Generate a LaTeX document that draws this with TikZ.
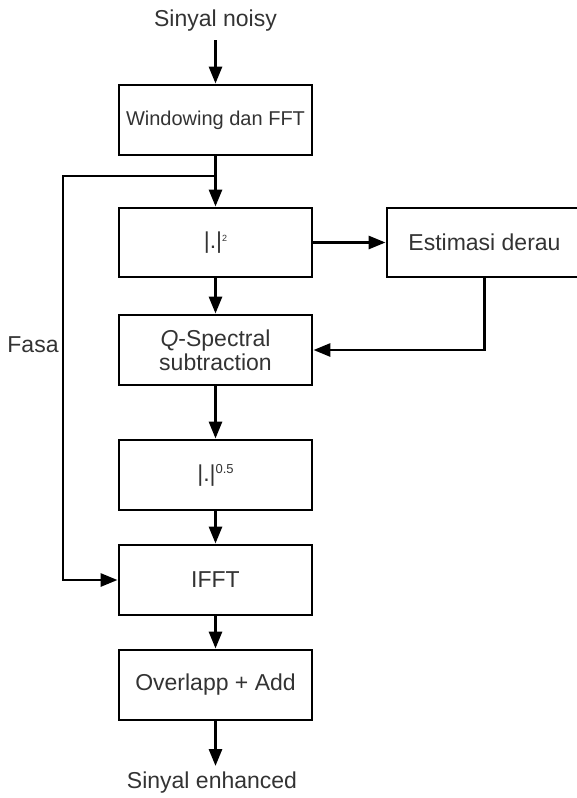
\documentclass[tikz,border=0pt]{standalone}
\usepackage{fontspec}
\setmainfont{Liberation Sans}
\usetikzlibrary{arrows.meta}
\definecolor{txt}{HTML}{333333}
\tikzset{
  blk/.style={draw=black, line width=2.9pt, rectangle, minimum width=193pt,
    minimum height=70pt, text=txt, align=center, inner sep=0pt,
    font=\fontsize{23}{26}\selectfont},
  lbl/.style={text=txt, inner sep=0pt, font=\fontsize{23}{26}\selectfont},
  wire/.style={line width=2.9pt, draw=black},
  arr/.style={wire, -{Triangle[length=17pt, width=13pt]}}
}
\begin{document}
\begin{tikzpicture}[x=1pt, y=-1pt]
\useasboundingbox (0,0) rectangle (577,798);

% input and output labels
\node[lbl] (src) at (215.5,21) {Sinyal noisy};
\coordinate (srcend) at (215.5,40);
\node[lbl] (dst) at (212,783) {Sinyal enhanced};
\coordinate (dstend) at (215.5,766);

% processing blocks
\node[blk, font=\fontsize{20}{24}\selectfont] (b1) at (215.5,120) {Windowing dan FFT};
\node[blk, minimum height=69pt] (b2) at (215.5,242.5) {|.|\raisebox{7pt}{\fontsize{9}{10}\selectfont 2}};
\node[blk, minimum width=195pt, minimum height=69pt] (est) at (484.5,242.5) {Estimasi derau};
\node[blk] (b3) at (215.5,350) {\textit{Q}-Spectral\\[-2pt]subtraction};
\node[blk] (b4) at (215.5,475) {|.|\raisebox{8pt}{\fontsize{13}{14}\selectfont 0.5}};
\node[blk] (b5) at (215.5,580) {IFFT};
\node[blk] (b6) at (215.5,685) {Overlapp + Add};

% phase branch
\coordinate (br) at (215.5,176);
\coordinate (lft) at (63,176);
\node[lbl] (fasa) at (33,345) {Fasa};

% connectors
\draw[arr] (srcend) -- (b1.north);
\draw[arr] (b1.south) -- (b2.north);
\draw[arr] (b2.east) -- (est.west);
\draw[arr] (b2.south) -- (b3.north);
\draw[arr] (est.south) |- (b3.east);
\draw[arr] (b3.south) -- (b4.north);
\draw[arr] (b4.south) -- (b5.north);
\draw[arr] (b5.south) -- (b6.north);
\draw[arr] (b6.south) -- (dstend);
\draw[arr] (br) -- (lft) |- (b5.west);
\end{tikzpicture}
\end{document}
